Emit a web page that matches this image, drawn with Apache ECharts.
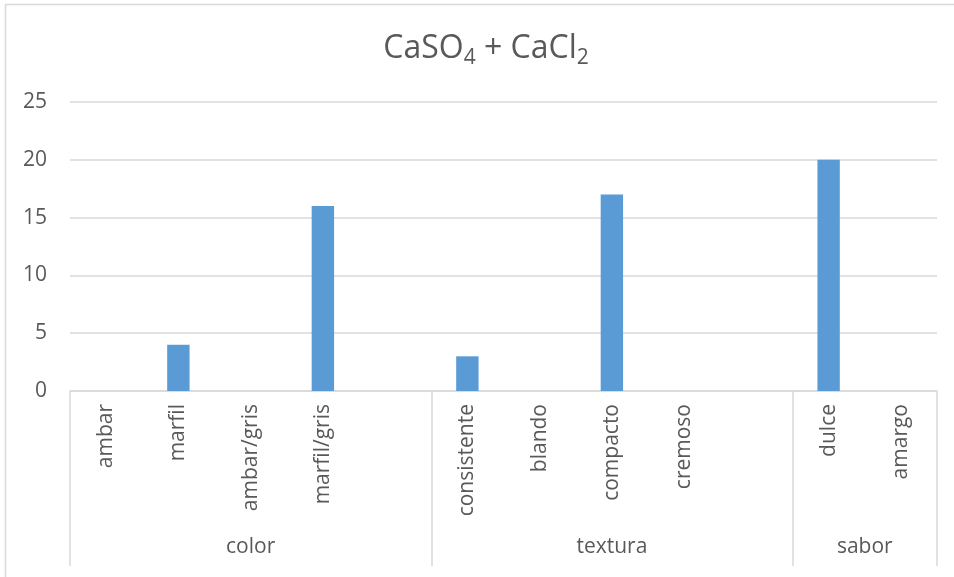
<!DOCTYPE html>
<html>
<head>
<meta charset="utf-8">
<script src="https://cdn.jsdelivr.net/npm/echarts@6/dist/echarts.min.js"></script>
<style>
  html, body { margin: 0; padding: 0; background: #fff; }
  #chart { width: 954px; height: 577px; }
</style>
</head>
<body>
<div id="chart"></div>
<script>
// Attribute categories (empty strings are the spacer slots between groups)
const categories = ['ambar', 'marfil', 'ambar/gris', 'marfil/gris', '',
                    'consistente', 'blando', 'compacto', 'cremoso', '',
                    'dulce', 'amargo'];
// Counts per attribute
const values = [0, 4, 0, 16, null, 3, 0, 17, 0, null, 20, 0];
// Group names and how many category slots each spans
const groups = ['color', 'textura', 'sabor'];
const groupSpans = [5, 5, 2];
const yTicks = [0, 5, 10, 15, 20, 25];

const FONT = 'Open Sans';
const TEXT = '#595959';
const LINE = '#d9d9d9';

// Separator positions and group label centres along the slot scale
const boundaries = [0];
const groupCentres = [];
groupSpans.forEach(function (n) {
  const start = boundaries[boundaries.length - 1];
  groupCentres.push(start + n / 2);
  boundaries.push(start + n);
});

const chart = echarts.init(document.getElementById('chart'), null, { renderer: 'canvas' });
chart.setOption({
  backgroundColor: '#fff',
  animation: false,
  title: {
    text: '{n|CaSO}{s|4}{n| + CaCl}{s|2}',
    left: 481,
    top: 23,
    textAlign: 'center',
    textStyle: {
      fontWeight: 'normal',
      rich: {
        n: { fontFamily: FONT, fontSize: 32, fontWeight: 'normal', color: TEXT, lineHeight: 42 },
        s: { fontFamily: FONT, fontSize: 21, fontWeight: 'normal', color: TEXT, lineHeight: 42, padding: [18, 0, 0, 0] }
      }
    }
  },
  graphic: [{
    type: 'rect',
    shape: { x: 5.5, y: 4.5, width: 1000, height: 1000 },
    style: { fill: 'none', stroke: LINE, lineWidth: 1.5 },
    silent: true
  }],
  grid: { left: 70, right: 17, top: 102, bottom: 186, containLabel: false },
  xAxis: [{
    type: 'category',
    data: categories,
    boundaryGap: true,
    axisLine: { show: true, lineStyle: { color: LINE, width: 1.5 } },
    axisTick: { show: false },
    axisLabel: {
      interval: 0,
      rotate: 90,
      margin: 13,
      color: TEXT,
      fontFamily: FONT,
      fontSize: 21
    }
  }, {
    type: 'value',
    min: 0,
    max: categories.length,
    position: 'bottom',
    axisLine: { show: false },
    splitLine: { show: false },
    axisTick: {
      show: true,
      customValues: boundaries,
      length: 175,
      lineStyle: { color: LINE, width: 1.5 }
    },
    axisLabel: {
      customValues: groupCentres,
      margin: 146,
      color: TEXT,
      fontFamily: FONT,
      fontSize: 21,
      formatter: function (v) {
        return groups[groupCentres.indexOf(v)] || '';
      }
    }
  }],
  yAxis: {
    type: 'value',
    min: yTicks[0],
    max: yTicks[yTicks.length - 1],
    interval: 5,
    axisLine: { show: false },
    axisTick: { show: false },
    splitLine: { lineStyle: { color: LINE, width: 1.5 } },
    axisLabel: { margin: 23, color: TEXT, fontFamily: FONT, fontSize: 21 }
  },
  series: [{
    type: 'bar',
    xAxisIndex: 0,
    data: values,
    barWidth: '31%',
    itemStyle: { color: '#5b9bd5' }
  }]
});
</script>
</body>
</html>
